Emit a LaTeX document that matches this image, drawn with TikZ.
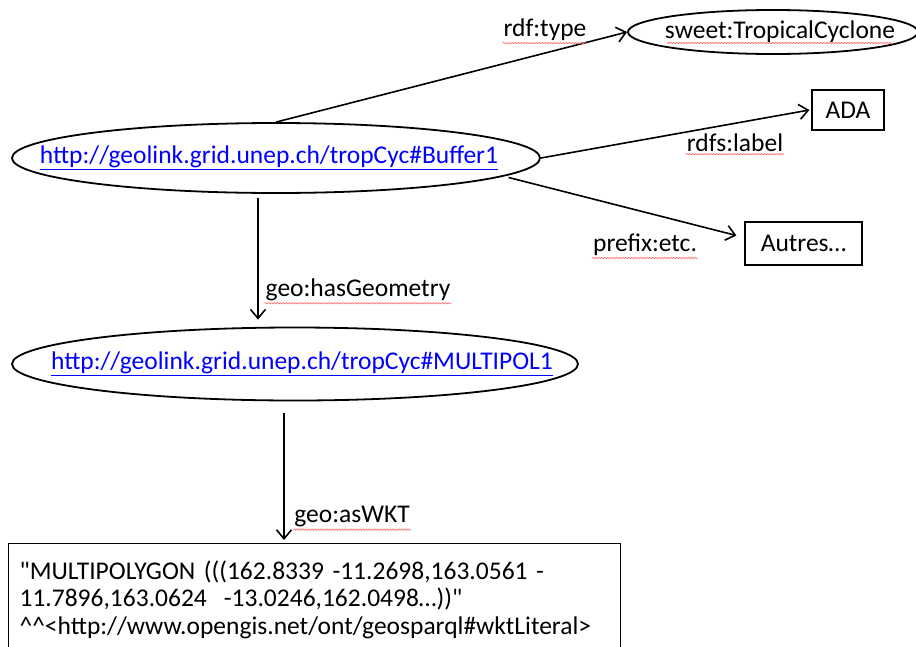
\documentclass[tikz,border=0pt]{standalone}
\usepackage{fontspec}
\setmainfont{Carlito}[Ligatures=TeXOff]
\usepackage{tikz}
\usetikzlibrary{shapes.geometric,arrows.meta,decorations.pathmorphing,positioning}
\tikzset{>={Straight Barb[length=9pt,width=15pt]}}

\begin{document}
\begin{tikzpicture}[x=1pt,y=-1pt,
                          every node/.style={font=\fontsize{25.5}{27.5}\selectfont},
                          res/.style={draw, line width=1.8pt, ellipse, inner sep=0pt},
                          lit/.style={draw, line width=1.2pt, rectangle, inner sep=0pt},
                          link/.style={text=blue},
                          prop/.style={inner sep=1pt},
                          myarrow/.style={line width=1.6pt, black, ->},
                          squig/.style={red!55, line width=0.7pt, decorate,
                                        decoration={snake, amplitude=0.7pt, segment length=3pt}},
                         ]

\useasboundingbox (0,0) rectangle (916,646);

% resources
\node[res, link, minimum width=528pt, minimum height=70pt] (buf) at (276,158)
     {\makebox[0pt]{\underline{http://geolink.grid.unep.ch/tropCyc\#Buffer1}\hspace*{14pt}}};
\node[res, minimum width=290pt, minimum height=44pt] (tc) at (773,32)
     {\makebox[0pt]{\hspace*{14pt}sweet:TropicalCyclone}};
\node[res, link, minimum width=566pt, minimum height=73pt] (mp) at (295,364)
     {\makebox[0pt]{\hspace*{14pt}\underline{http://geolink.grid.unep.ch/tropCyc\#MULTIPOL1}}};

% literals
\node[lit, minimum width=72pt, minimum height=40pt] (ada) at (848,110) {ADA};
\node[lit, minimum width=117pt, minimum height=43pt] (autres) at (803.5,243.5) {Autres\ldots};
\node[lit, anchor=north west, text width=590pt, align=left,
      inner xsep=11pt, inner ysep=17pt] (wkt) at (8,543)
     {"MULTIPOLYGON (((162.8339 -11.2698,163.0561 -\\
      11.7896,163.0624 \ -13.0246,162.0498\ldots))"\\
      \textasciicircum\textasciicircum<http://www.opengis.net/ont/geosparql\#wktLiteral>};

% properties
\draw[myarrow] (buf.north) -- (tc.west);
\draw[myarrow] (buf.east) -- ([xshift=-2pt]ada.west);
\draw[myarrow] ([xshift=10pt]buf.-5) -- ([xshift=-8pt,yshift=8pt]autres.west);
\draw[myarrow] ([xshift=-18pt,yshift=-4pt]buf.south) -- ([xshift=-18pt,yshift=7pt]buf.south |- mp.north);
\draw[myarrow] ([xshift=-11pt,yshift=-12pt]mp.south) -- ([xshift=-11pt,yshift=3pt]mp.south |- wkt.north);

\node[prop] (ptype) at (545,30) {rdf:type};
\node[prop] (plabel) at (735,143) {rdfs:label};
\node[prop] (petc) at (645,245) {prefix:etc.};
\node[prop] (pgeom) at (358,290) {geo:hasGeometry};
\node[prop] (pwkt) at (352,517) {geo:asWKT};

% spell-check underlines
\foreach \n in {ptype,plabel,petc,pgeom,pwkt}
  \draw[squig] ([yshift=-1pt]\n.south west) -- ([yshift=-1pt]\n.south east);
\draw[squig] ([xshift=-106pt,yshift=-11pt]tc.center) -- ([xshift=120pt,yshift=-11pt]tc.center);

\end{tikzpicture}
\end{document}
